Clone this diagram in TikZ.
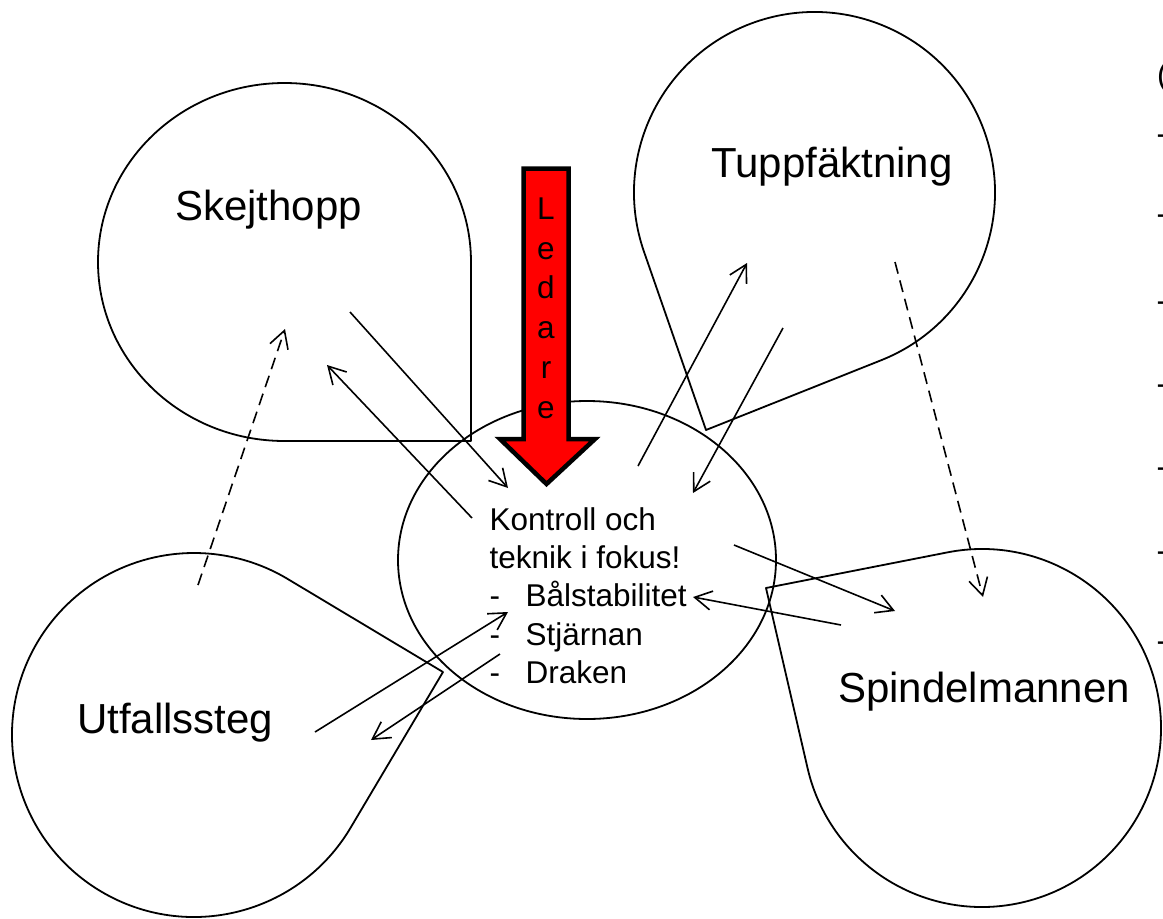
\documentclass[tikz,border=0pt]{standalone}
\usepackage{fontspec}
\setmainfont{Liberation Sans}
\usetikzlibrary{arrows.meta}

\begin{document}
\begin{tikzpicture}[x=1pt, y=-1pt,
  outline/.style={draw=black, line width=1.8pt, line join=round},
  link/.style={draw=black, line width=1.6pt,
    -{Straight Barb[length=17pt, width=19pt, line width=1.6pt]}},
  dashedlink/.style={link, dash pattern=on 12pt off 7pt},
  title/.style={inner sep=0pt, anchor=base west,
    font=\fontsize{42}{50}\selectfont},
  bodytext/.style={inner sep=0pt, font=\fontsize{31.5}{38.25}\selectfont},
  leader/.style={draw=black, fill=red, line width=4.5pt, miter limit=10}
]
\useasboundingbox (0,0) rectangle (1163,919);
\clip (0,0) rectangle (1163,919);

% four drop-shaped exercise areas
\draw[outline] (284.5,441)
  arc[start angle=90, end angle=360, x radius=186.5, y radius=179]
  -- (471,441) -- cycle;
\draw[outline] (194,735) ++(30.7:182)
  arc[start angle=30.7, end angle=300.9, radius=182]
  -- (443,672) -- cycle;
\draw[outline] (814.5,192.5) ++(160.85:180.5)
  arc[start angle=160.85, end angle=428.35, radius=180.5]
  -- (706,430) -- cycle;
\draw[outline] (982,728) ++(258.9:179)
  arc[start angle=258.9, end angle=527.1, radius=179]
  -- (766,588) -- cycle;

% central focus area
\draw[outline] (587,560) ellipse[x radius=189, y radius=159];

% leader arrow
\draw[leader] (523.5,168.5) -- (568.5,168.5) -- (568.5,439) -- (595,439)
  -- (546.5,484) -- (500,439) -- (523.5,439) -- cycle;
\node[bodytext, anchor=north, align=center,
  font=\fontsize{31.5}{39.8}\selectfont] (ledare) at (546,197.4)
  {L\\e\\d\\a\\r\\e};

% labels
\node[title] (skej) at (175,220) {Skejthopp};
\node[title] (tupp) at (711,177) {Tuppfäktning};
\node[title] (utf) at (77,733) {Utfallssteg};
\node[title] (spin) at (838,702) {Spindelmannen};

\node[bodytext, anchor=north west, align=left] (focus) at (489.5,507.4)
  {Kontroll och\\teknik i fokus!\\
   \makebox[36pt][l]{-}Bålstabilitet\\
   \makebox[36pt][l]{-}Stjärnan\\
   \makebox[36pt][l]{-}Draken};

% text running off the right edge
\node[bodytext, anchor=base west] (paren) at (1157,85) {(};
\foreach \yy [count=\i] in {144,224,311,394,477,561,651}
  \node[bodytext, anchor=base west] (dash\i) at (1156.5,\yy) {-};

% connector end points
\coordinate (s1) at (350,312);  \coordinate (c1) at (508,488);
\coordinate (c2) at (472,518);  \coordinate (s2) at (327,365);
\coordinate (u1) at (198,585);  \coordinate (s3) at (285,329);
\coordinate (c3) at (638,466);  \coordinate (t1) at (747,263);
\coordinate (t2) at (783,328);  \coordinate (c4) at (693,493);
\coordinate (t3) at (895,262);  \coordinate (p1) at (983,597);
\coordinate (c5) at (734,545);  \coordinate (p2) at (895,611);
\coordinate (p3) at (841,625);  \coordinate (c6) at (693,597);
\coordinate (u2) at (315,732);  \coordinate (c7) at (508,612);
\coordinate (c8) at (500,654);  \coordinate (u3) at (371,740);

% connectors
\draw[link] (s1) -- (c1);
\draw[link] (c2) -- (s2);
\draw[dashedlink] (u1) -- (s3);
\draw[link] (c3) -- (t1);
\draw[link] (t2) -- (c4);
\draw[dashedlink] (t3) -- (p1);
\draw[link] (c5) -- (p2);
\draw[link] (p3) -- (c6);
\draw[link] (u2) -- (c7);
\draw[link] (c8) -- (u3);
\end{tikzpicture}
\end{document}
